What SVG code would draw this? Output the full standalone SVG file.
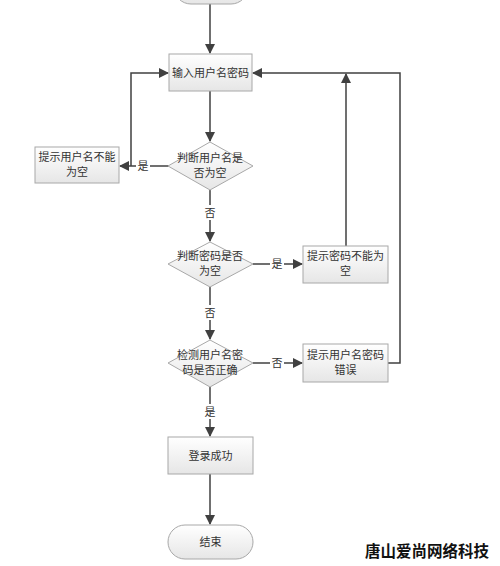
<svg xmlns="http://www.w3.org/2000/svg" width="500" height="566" viewBox="0 0 500 566">
<defs>
<linearGradient id="g" x1="0" y1="0" x2="0" y2="1">
<stop offset="0" stop-color="#ffffff"/>
<stop offset="1" stop-color="#e6e6e6"/>
</linearGradient>
<marker id="a" markerWidth="10" markerHeight="10" refX="9" refY="5" orient="auto" markerUnits="userSpaceOnUse">
<path d="M0,0 L10,5 L0,10 z" fill="#404040"/>
</marker>
</defs>
<style>
.n{fill:url(#g);stroke:#a8a8a8;stroke-width:1}
.t{font-family:"Noto Sans CJK SC","Noto Sans",sans-serif;font-size:11px;fill:#333;text-anchor:middle}
.c{fill:none;stroke:#404040;stroke-width:1.5}
.lb{fill:#fff}
.w{font-family:"Noto Sans CJK SC",sans-serif;font-size:15.5px;font-weight:bold;fill:#111;stroke:#fff;stroke-width:2;paint-order:stroke}
</style>
<rect width="500" height="566" fill="#fff"/>
<g id="connectors">
<path class="c" d="M210,4 V53" marker-end="url(#a)"/>
<path class="c" d="M210,91 V141" marker-end="url(#a)"/>
<path class="c" d="M169,166 H120" marker-end="url(#a)"/>
<path class="c" d="M131,166 V73 H168" marker-end="url(#a)"/>
<path class="c" d="M210,190 V241" marker-end="url(#a)"/>
<path class="c" d="M253,264 H302" marker-end="url(#a)"/>
<path class="c" d="M346,246 V74" marker-end="url(#a)"/>
<path class="c" d="M388,363 H400 V73 H253" marker-end="url(#a)"/>
<path class="c" d="M210,287 V339" marker-end="url(#a)"/>
<path class="c" d="M253,363 H302" marker-end="url(#a)"/>
<path class="c" d="M210,387 V436" marker-end="url(#a)"/>
<path class="c" d="M210,474 V524" marker-end="url(#a)"/>
<rect class="lb" x="136" y="158" width="14" height="15"/>
<text class="t" x="143" y="170">是</text>
<rect class="lb" x="203" y="205" width="14" height="15"/>
<text class="t" x="210" y="217">否</text>
<rect class="lb" x="270" y="256" width="14" height="15"/>
<text class="t" x="277" y="268">是</text>
<rect class="lb" x="203" y="305" width="14" height="15"/>
<text class="t" x="210" y="317">否</text>
<rect class="lb" x="270" y="355" width="14" height="15"/>
<text class="t" x="277" y="367">否</text>
<rect class="lb" x="203" y="404" width="14" height="15"/>
<text class="t" x="210" y="416">是</text>
</g>
<g id="start"><rect class="n" x="174" y="-30" width="74" height="34" rx="17"/></g>
<g id="input"><rect class="n" x="169" y="54" width="83" height="37"/><text class="t" x="210.5" y="77">输入用户名密码</text></g>
<g id="d1"><path class="n" d="M210,142 L253,166 L210,190 L168,166 z"/><text class="t" x="210" y="162">判断用户名是</text><text class="t" x="210" y="177">否为空</text></g>
<g id="e1"><rect class="n" x="35" y="147" width="84" height="36"/><text class="t" x="77" y="161">提示用户名不能</text><text class="t" x="77" y="176">为空</text></g>
<g id="d2"><path class="n" d="M210,242 L253,264 L210,287 L168,264 z"/><text class="t" x="210" y="260">判断密码是否</text><text class="t" x="210" y="275">为空</text></g>
<g id="e2"><rect class="n" x="303" y="246" width="85" height="37"/><text class="t" x="345.5" y="260">提示密码不能为</text><text class="t" x="345.5" y="275">空</text></g>
<g id="d3"><path class="n" d="M210,340 L253,363 L210,387 L168,363 z"/><text class="t" x="210" y="359">检测用户名密</text><text class="t" x="210" y="374">码是否正确</text></g>
<g id="e3"><rect class="n" x="303" y="344" width="85" height="38"/><text class="t" x="345.5" y="359">提示用户名密码</text><text class="t" x="345.5" y="374">错误</text></g>
<g id="ok"><rect class="n" x="168" y="437" width="85" height="37"/><text class="t" x="210.5" y="460">登录成功</text></g>
<g id="end"><rect class="n" x="168" y="525" width="85" height="34" rx="17"/><text class="t" x="210.5" y="546">结束</text></g>
<text class="w" x="365" y="557">唐山爱尚网络科技</text>
</svg>
